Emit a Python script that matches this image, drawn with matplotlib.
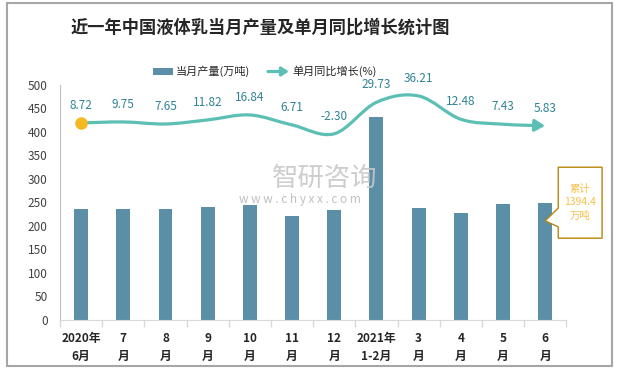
import numpy as np
import matplotlib
matplotlib.use("Agg")
import matplotlib.pyplot as plt
from matplotlib.path import Path
from matplotlib.patches import FancyArrowPatch, Rectangle, Polygon

plt.rcParams['font.family'] = ['Noto Sans CJK SC', 'DejaVu Sans']

# 数据
months = ["2020年\n6月", "7\n月", "8\n月", "9\n月", "10\n月", "11\n月", "12\n月",
          "2021年\n1-2月", "3\n月", "4\n月", "5\n月", "6\n月"]
output = [236, 236, 236, 240, 245, 221, 234, 432, 238, 228, 247, 249]   # 万吨
growth = [8.72, 9.75, 7.65, 11.82, 16.84, 6.71, -2.30, 29.73, 36.21, 12.48, 7.43, 5.83]  # %
total_label = "累计\n1394.4\n万吨"

bar_color = "#5B8FA8"
line_color = "#5CBFB4"
label_color = "#2F8394"
gold = "#B8860B"

fig = plt.figure(figsize=(6.2, 3.71), dpi=100)
ax = fig.add_axes([0.0968, 0.1375, 0.8165, 0.6335])
x = np.arange(len(months))

ax.bar(x, output, width=0.33, color=bar_color, zorder=2)
ax.set_xlim(-0.5, len(months) - 0.5)
ax.set_ylim(0, 500)
ax.set_yticks(range(0, 501, 50))
ax.tick_params(axis='y', length=0, labelsize=8.5, labelcolor="#404040", pad=9)
ax.set_xticks(x)
ax.set_xticklabels(months, fontsize=8.5, fontweight='bold', color="#262626", linespacing=1.45)
ax.set_xticks(np.arange(-0.5, len(months)), minor=True)
ax.tick_params(axis='x', which='major', length=0, pad=9)
ax.tick_params(axis='x', which='minor', length=5, color="#D9D9D9", width=1)
for s in ['top', 'right']:
    ax.spines[s].set_visible(False)
ax.spines['left'].set_color("#BFBFBF")
ax.spines['bottom'].set_color("#D9D9D9")

# 同比增长 (平滑曲线)
ax2 = ax.twinx()
ax2.set_ylim(-191.9, 47.4)
ax2.axis('off')
pts = np.column_stack([x, growth]).astype(float)
verts = [tuple(pts[0])]
codes = [Path.MOVETO]
n = len(pts)
for i in range(n - 1):
    p0 = pts[max(i - 1, 0)]
    p1 = pts[i]
    p2 = pts[i + 1]
    p3 = pts[min(i + 2, n - 1)]
    c1 = p1 + (p2 - p0) / 6
    c2 = p2 - (p3 - p1) / 6
    verts += [tuple(c1), tuple(c2), tuple(p2)]
    codes += [Path.CURVE4] * 3
curve = FancyArrowPatch(path=Path(verts, codes), arrowstyle='-|>,head_length=6,head_width=3.5',
                        color=line_color, lw=2.3, shrinkA=0, shrinkB=0,
                        transform=ax2.transData, zorder=3)
ax2.add_patch(curve)
ax2.plot(x[0], growth[0], 'o', color="#F5B820", ms=8, zorder=4)
for xi, g in zip(x, growth):
    ax2.annotate(f"{g:.2f}", (xi, g), xytext=(0, 12.5), textcoords='offset points',
                 ha='center', va='center', fontsize=8.5, color=label_color)

# 累计 标注框
box = Polygon([(11.0, 211), (11.31, 238), (11.31, 325), (12.35, 325), (12.35, 174),
               (11.31, 174), (11.31, 198)], closed=True, fc='white', ec=gold, lw=1,
              clip_on=False, zorder=5)
ax.add_patch(box)
ax.text(11.83, 250, total_label, ha='center', va='center', fontsize=7.5,
        color="#F5C04A", linespacing=1.45, zorder=6, clip_on=False)

# 水印
fig.text(0.438, 0.52, "智研咨询", fontsize=19, color="#C8C8C8", ha='left', va='center', alpha=0.9)
fig.text(0.385, 0.463, "w w w . c h y x x . c o m", fontsize=8.5, color="#C0C0C0",
         ha='left', va='center')

# 标题
fig.text(0.42, 0.925, "近一年中国液体乳当月产量及单月同比增长统计图", fontsize=12.4,
         fontweight='bold', color="#262626", ha='center', va='center')

# 图例
fig.patches.append(Rectangle((153 / 620, 1 - 75 / 371), 20 / 620, 7 / 371,
                             transform=fig.transFigure, fc=bar_color, ec='none'))
fig.text(176 / 620, 1 - 71.5 / 371, "当月产量(万吨)", fontsize=8, color="#262626", va='center')
fig.patches.append(FancyArrowPatch((268 / 620, 1 - 71.5 / 371), (289 / 620, 1 - 71.5 / 371),
                                   transform=fig.transFigure, arrowstyle='-|>,head_length=4,head_width=2.5',
                                   color=line_color, lw=2.3, shrinkA=0, shrinkB=0))
fig.text(292 / 620, 1 - 71.5 / 371, "单月同比增长(%)", fontsize=8, color="#262626", va='center')

# 外框
fig.patches.append(Rectangle((0.011, 0.0135), 0.976, 0.9785, transform=fig.transFigure,
                             fill=False, ec="#A6A6A6", lw=1.5))

fig.savefig("out.png", dpi=100)
